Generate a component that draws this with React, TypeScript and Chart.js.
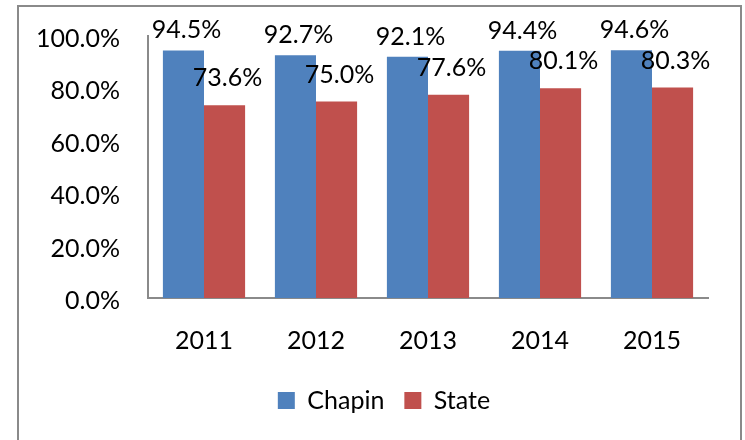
import React, { useEffect, useRef } from "react";
import { Chart, registerables } from "chart.js";

Chart.register(...registerables);

const categories = ["2011", "2012", "2013", "2014", "2015"];
const chapinValues = [94.5, 92.7, 92.1, 94.4, 94.6];
const stateValues = [73.6, 75.0, 77.6, 80.1, 80.3];
const seriesNames = ["Chapin", "State"];
const yTicks = [0, 20, 40, 60, 80, 100];

const FONT = "Lato, 'Open Sans', sans-serif";

const labelPlugin = {
  id: "barLabels",
  afterLayout(chart: any) {
    const lg = chart.legend;
    if (lg) {
      lg.left = 60;
      lg.right = 708;
      lg.width = 648;
    }
  },
  afterDatasetsDraw(chart: any) {
    const ctx = chart.ctx;
    ctx.save();
    ctx.font = `25px ${FONT}`;
    ctx.fillStyle = "#000";
    ctx.textAlign = "center";
    ctx.textBaseline = "alphabetic";
    chart.data.datasets.forEach((ds: any, i: number) => {
      const meta = chart.getDatasetMeta(i);
      const off = i === 0 ? 12 : 19;
      meta.data.forEach((el: any, j: number) => {
        const v = ds.data[j];
        ctx.fillText(v.toFixed(1) + "%", el.x + 3, el.y - off);
      });
    });
    ctx.restore();
  },
};

export default function App() {
  const ref = useRef<HTMLCanvasElement>(null);
  useEffect(() => {
    if (!ref.current) return;
    const chart = new Chart(ref.current, {
      type: "bar",
      data: {
        labels: categories,
        datasets: [
          {
            label: seriesNames[0],
            data: chapinValues,
            backgroundColor: "#4F81BD",
            borderWidth: 0,
            categoryPercentage: 0.734,
            barPercentage: 1,
          },
          {
            label: seriesNames[1],
            data: stateValues,
            backgroundColor: "#C0504D",
            borderWidth: 0,
            categoryPercentage: 0.734,
            barPercentage: 1,
          },
        ],
      },
      options: {
        responsive: false,
        animation: false,
        layout: { padding: { top: 36, right: 37, bottom: 17, left: 0 } },
        plugins: {
          tooltip: { enabled: false },
          legend: {
            position: "bottom",
            labels: {
              font: { family: FONT, size: 25 },
              color: "#000",
              boxWidth: 17,
              boxHeight: 17,
              padding: 20,
            },
          },
        },
        scales: {
          x: {
            grid: { display: false, drawTicks: false },
            border: { display: true, color: "#8a8a8a", width: 2 },
            ticks: {
              font: { family: FONT, size: 25 },
              color: "#000",
              padding: 28,
            },
            afterFit(scale: any) {
              scale.height = 70;
              scale.paddingLeft = 0;
              scale.paddingRight = 0;
            },
          },
          y: {
            min: 0,
            max: 100,
            afterBuildTicks(scale: any) {
              scale.ticks = yTicks.map((v) => ({ value: v }));
            },
            grid: { display: false, drawTicks: false },
            border: { display: true, color: "#8a8a8a", width: 2 },
            ticks: {
              font: { family: FONT, size: 25 },
              color: "#000",
              padding: 28,
              labelOffset: 3,
              callback: (v: any) => Number(v).toFixed(1) + "%",
            },
            afterFit(scale: any) {
              scale.width = 148;
              scale.paddingTop = 0;
              scale.paddingBottom = 0;
            },
          },
        },
      },
      plugins: [labelPlugin],
    });
    return () => chart.destroy();
  }, []);

  return (
    <div
      style={{
        position: "fixed",
        left: 0,
        top: 0,
        width: 745,
        height: 440,
        overflow: "hidden",
        background: "#fff",
      }}
    >
      <div
        style={{
          position: "absolute",
          left: 17,
          top: 5,
          width: 721,
          height: 480,
          border: "2px solid #8a8a8a",
        }}
      />
      <canvas
        ref={ref}
        width={745}
        height={440}
        style={{ position: "absolute", left: 0, top: 0 }}
      />
    </div>
  );
}
